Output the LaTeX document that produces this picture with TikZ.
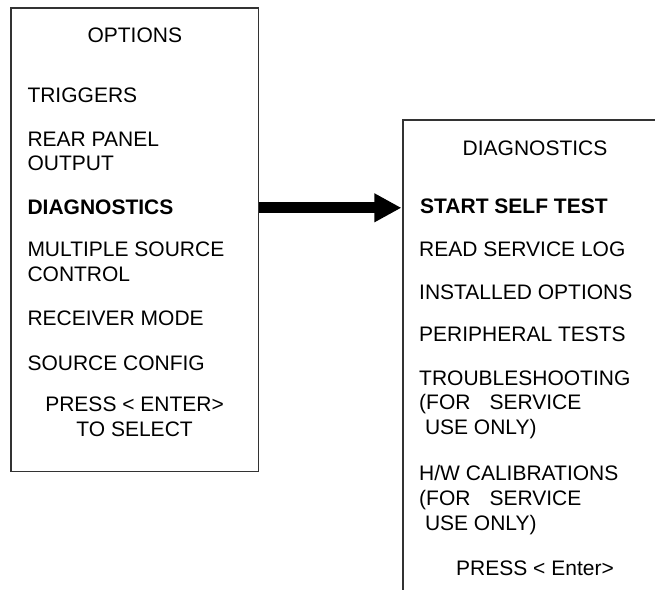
\documentclass[tikz,border=0pt]{standalone}
\usepackage{fontspec}
\setmainfont{Liberation Sans}
\usetikzlibrary{arrows.meta}
\newcommand\leftlines[1]{\vtop{\halign{##\hfil\cr #1\crcr}}}
\newcommand\centerlines[1]{\vtop{\halign{\hfil##\hfil\cr #1\crcr}}}
\tikzset{
  box/.style={draw=black!80, line width=1.2pt, rectangle, inner sep=0pt, fill=none},
  item/.style={anchor=base west, inner sep=0pt, font=\fontsize{21}{24.7}\selectfont},
  citem/.style={anchor=base, inner sep=0pt, font=\fontsize{21}{24.7}\selectfont},
  bolditem/.style={item, font=\fontsize{21}{24.7}\selectfont\bfseries},
  bigarrow/.style={line width=11pt, draw=black, -{Triangle[length=27pt,width=27pt]}, shorten >=1pt}
}
\begin{document}
\begin{tikzpicture}[x=1pt,y=-1pt]
\useasboundingbox (0,0) rectangle (655,589);
\clip (0,0) rectangle (655,589);
% left box
\node[box, minimum width=247.5pt, minimum height=463.7pt] (L) at (134.8,239.9) {};
\node[citem] (Ltitle) at (134.8,42.7) {OPTIONS};
\node[item] (Ltrig) at (27.3,102.7) {TRIGGERS};
\node[item] (Lrear) at (27.3,146) {\leftlines{REAR PANEL\cr OUTPUT}};
\node[bolditem] (Ldiag) at (27.3,214) {DIAGNOSTICS};
\node[item] (Lmult) at (27.3,256.7) {\leftlines{MULTIPLE SOURCE\cr CONTROL}};
\node[item] (Lrecv) at (27.3,325.7) {RECEIVER MODE};
\node[item] (Lsrc) at (27.3,370) {SOURCE CONFIG};
\node[citem] (Lpress) at (134.6,411.7) {\centerlines{PRESS {<} ENTER{>}\cr TO SELECT}};
% right box
\node[box, minimum width=264pt, minimum height=520pt] (R) at (535,380) {};
\node[citem] (Rtitle) at (535,155) {DIAGNOSTICS};
\node[bolditem] (Rstart) at (420,213.3) {START SELF TEST};
\node[item] (Rread) at (419,256.7) {READ SERVICE LOG};
\node[item] (Rinst) at (419,299) {INSTALLED OPTIONS};
\node[item] (Rperi) at (419,341) {PERIPHERAL TESTS};
\node[item] (Rtrbl) at (419,385) {\leftlines{TROUBLESHOOTING\cr (FOR\hspace{19pt}SERVICE\cr \hspace{5.8pt}USE ONLY)}};
\node[item] (Rhw) at (419,480.7) {\leftlines{H/W CALIBRATIONS\cr (FOR\hspace{19pt}SERVICE\cr \hspace{5.8pt}USE ONLY)}};
\node[citem] (Rpress) at (535,575) {PRESS {<} Enter{>}};
% arrow
\coordinate (ay) at (0,207.8);
\draw[bigarrow] (ay -| L.east) -- (ay -| R.west);
\end{tikzpicture}
\end{document}
